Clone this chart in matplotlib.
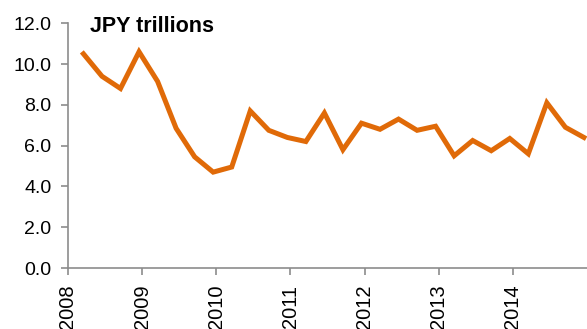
import numpy as np
import matplotlib.pyplot as plt

plt.rcParams['font.family'] = ['Liberation Sans', 'DejaVu Sans']

# quarterly values, JPY trillions (Q1 2008 .. Q4 2014)
years = [2008] * 4 + [2009] * 4 + [2010] * 4 + [2011] * 4 + [2012] * 4 + [2013] * 4 + [2014] * 4
quarters = [1, 2, 3, 4] * 7
values = [10.5, 9.4, 8.8, 10.6, 9.15, 6.85, 5.45, 4.7,
          4.95, 7.7, 6.75, 6.4, 6.2, 7.6, 5.8, 7.1,
          6.8, 7.3, 6.75, 6.95, 5.5, 6.25, 5.75, 6.35,
          5.6, 8.1, 6.9, 6.4]
year_ticks = [2008, 2009, 2010, 2011, 2012, 2013, 2014]
y_ticks = [0, 2, 4, 6, 8, 10, 12]

# place each quarter in the middle of its last month
x = np.array(years) + (np.array(quarters) * 3 - 0.5) / 12

fig = plt.figure(figsize=(5.87, 3.29), dpi=100)
ax = fig.add_axes([0.1158, 0.1854, 0.8842, 0.744])

ax.plot(x, values, color='#E06A08', lw=3.6, solid_joinstyle='miter', clip_on=False)

ax.set_xlim(2008, 2015)
ax.set_ylim(0, 12)
ax.set_xticks(year_ticks)
ax.set_xticklabels([str(y) for y in year_ticks], rotation=90, fontsize=14.5)
ax.set_yticks(y_ticks)
ax.set_yticklabels([f'{v:.1f}' for v in y_ticks], fontsize=14)

for s in ['top', 'right']:
    ax.spines[s].set_visible(False)
for s in ['left', 'bottom']:
    ax.spines[s].set_color('#8c8c8c')
    ax.spines[s].set_linewidth(1.2)
ax.tick_params(axis='both', colors='#8c8c8c', labelcolor='black', length=5, width=1.2)
ax.tick_params(axis='x', pad=7)
ax.tick_params(axis='y', pad=7)

ax.text(0.042, 1.03, 'JPY trillions', transform=ax.transAxes, fontsize=15.5,
        fontweight='bold', va='top', ha='left')

fig.savefig('out.png', dpi=100)
